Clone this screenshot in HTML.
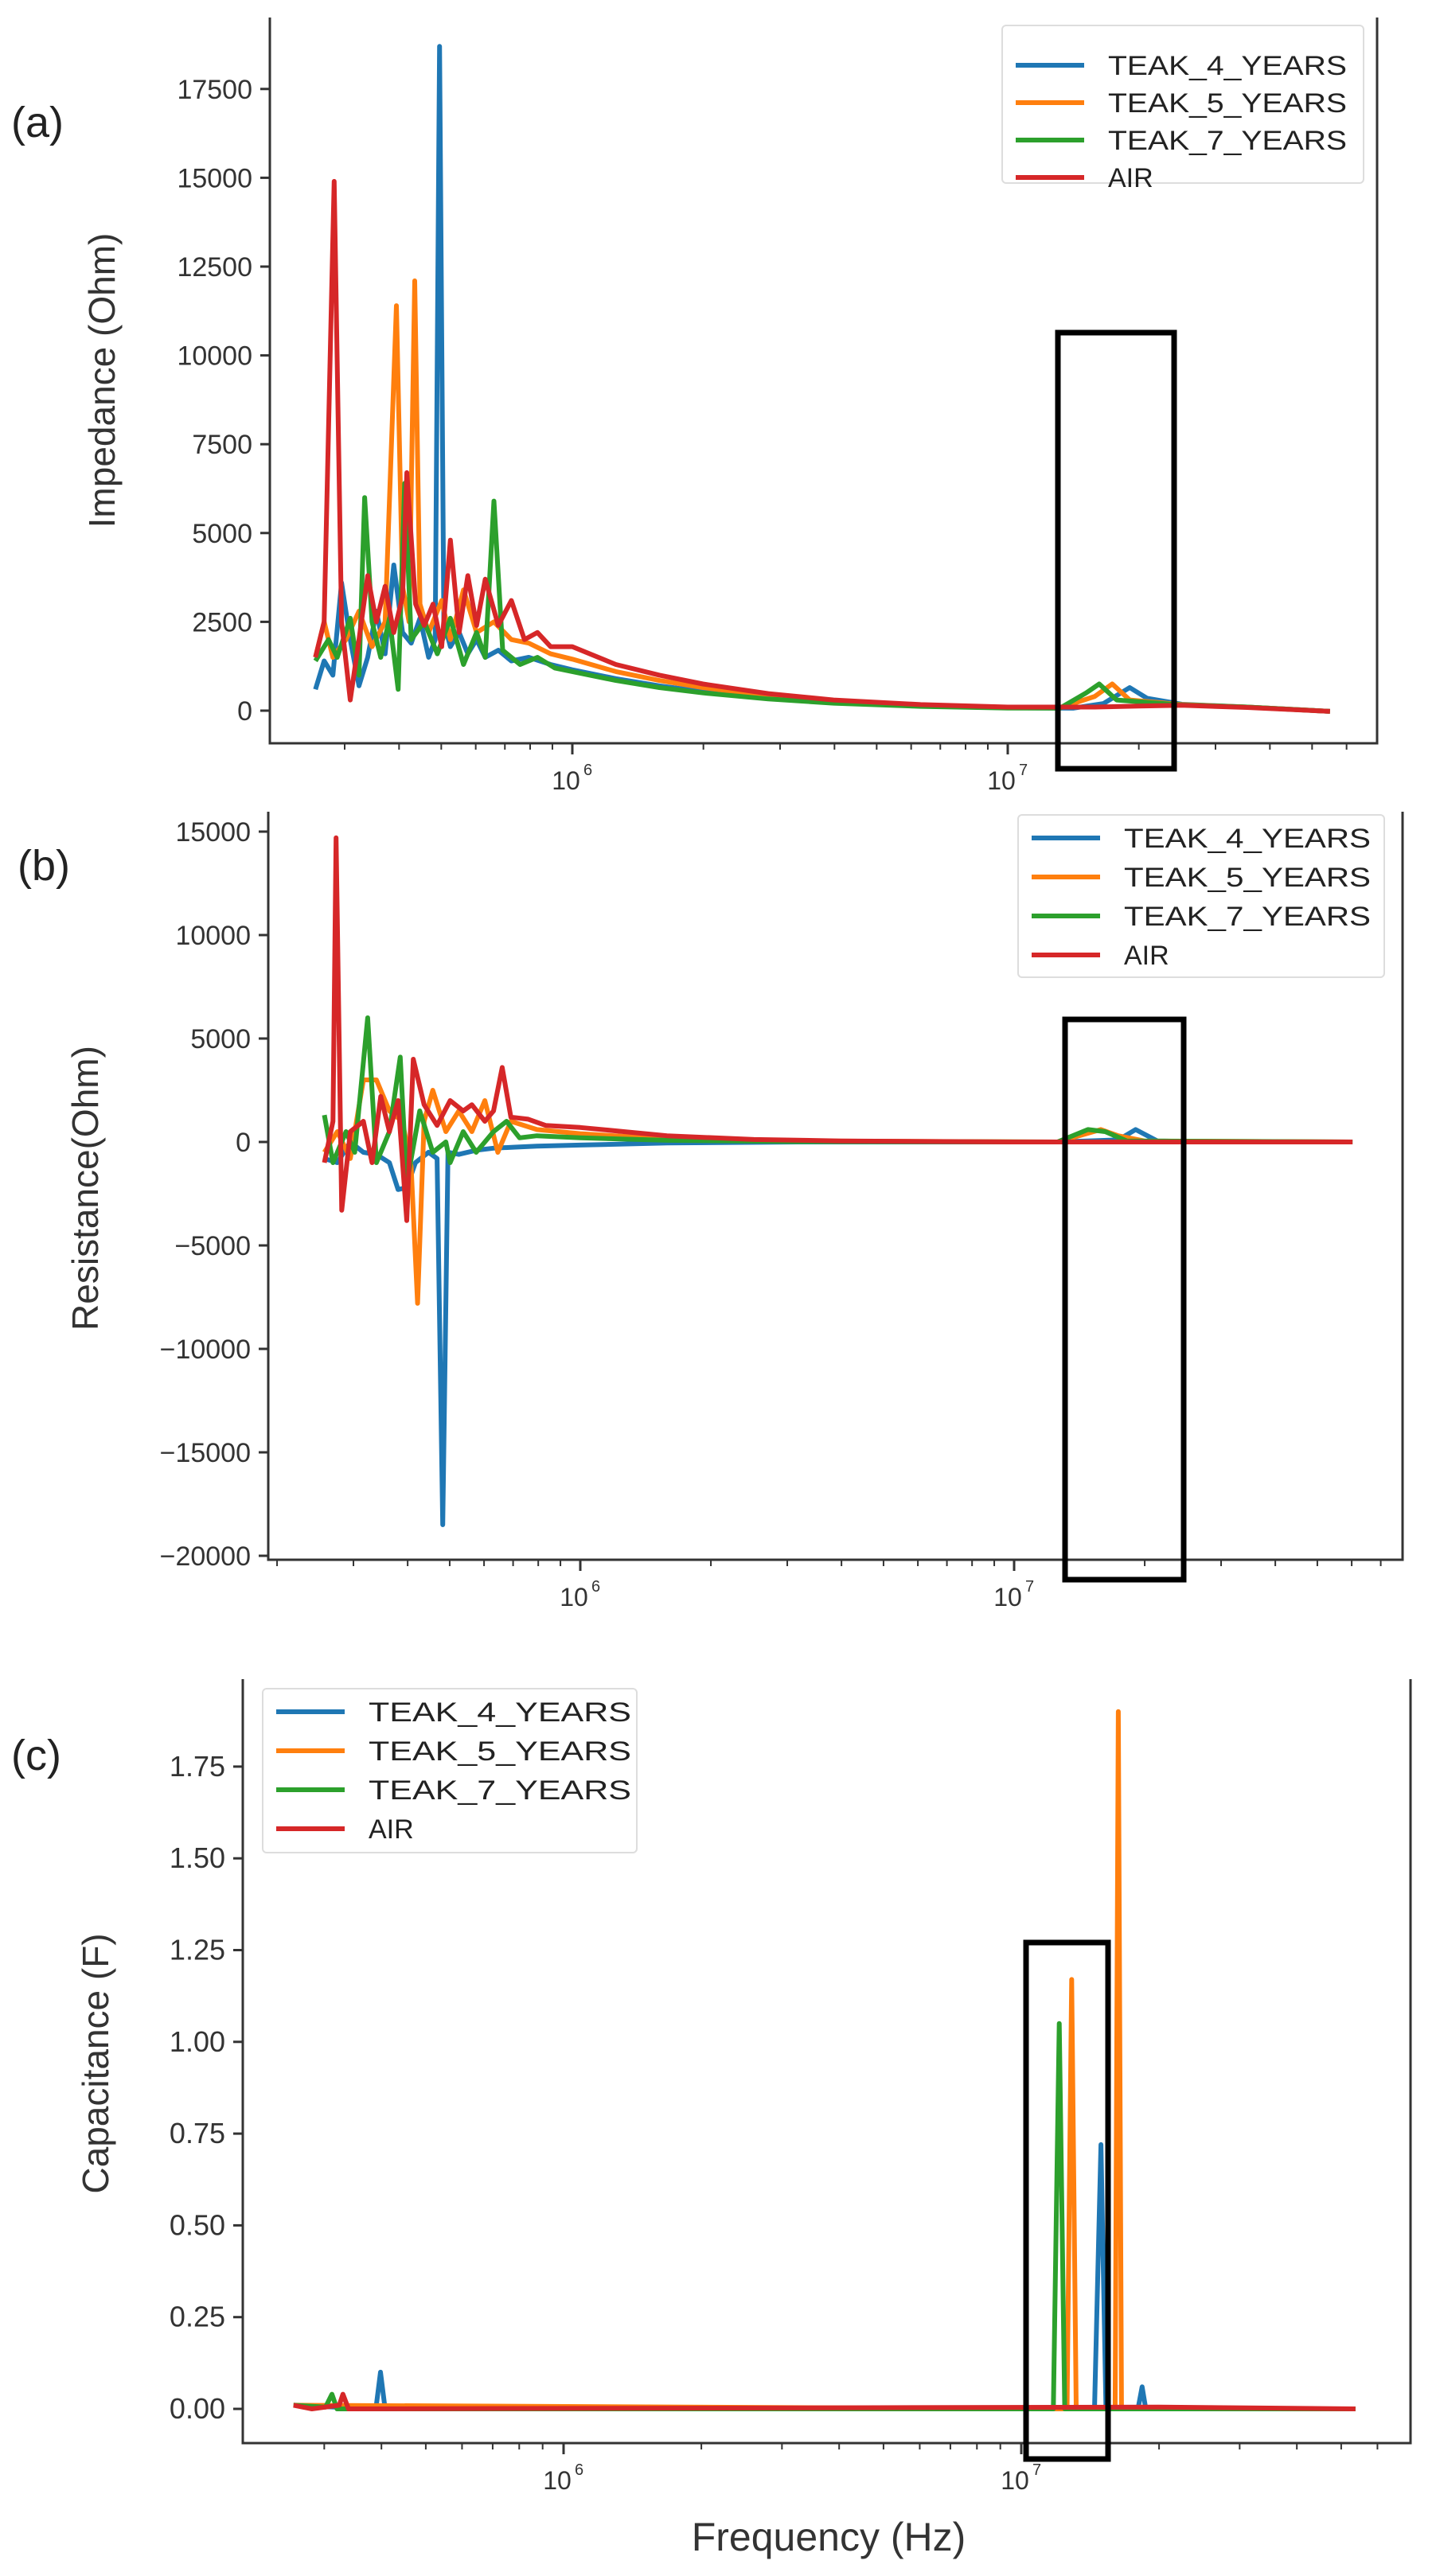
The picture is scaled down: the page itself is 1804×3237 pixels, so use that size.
<!DOCTYPE html>
<html><head><meta charset="utf-8"><style>
html,body{margin:0;padding:0;background:#fff;}
svg{display:block;}
text{font-family:"Liberation Sans",Arial,sans-serif;}
</style></head>
<body>
<svg id="fig" width="1804" height="3237" viewBox="0 0 1804 3237" xmlns="http://www.w3.org/2000/svg"></svg>
<script>
// ---------- Panel (a) Impedance data (log10 frequency, Ohm) ----------
const impBlueF = [5.41,5.43,5.45,5.47,5.49,5.51,5.53,5.55,5.57,5.59,5.61,5.63,5.65,5.67,5.685,5.695,5.705,5.72,5.74,5.76,5.78,5.80,5.83,5.86,5.9,5.95,6.0,6.1,6.2,6.3,6.45,6.6,6.8,7.0,7.15,7.22,7.28,7.32,7.4,7.55,7.74];
const impBlueV = [600,1400,1000,3600,2000,700,1500,2800,1600,4100,2200,1900,2600,1500,2000,18700,2500,1800,2200,1600,2000,1500,1700,1400,1500,1300,1150,900,700,540,350,230,130,80,70,200,650,350,180,100,-20];
const impOrangeF = [5.41,5.43,5.45,5.48,5.51,5.54,5.57,5.596,5.61,5.625,5.638,5.65,5.67,5.70,5.72,5.75,5.78,5.82,5.86,5.9,5.95,6.0,6.1,6.2,6.3,6.45,6.6,6.8,7.0,7.12,7.2,7.24,7.28,7.4,7.55,7.74];
const impOrangeV = [1500,2500,1500,2000,2800,1800,2500,11400,3500,2500,12100,3000,2200,3100,2000,3400,2200,2500,2000,1900,1600,1450,1100,850,650,420,270,150,90,80,400,750,300,170,100,-20];
const impGreenF = [5.41,5.44,5.46,5.49,5.51,5.523,5.54,5.56,5.58,5.60,5.615,5.63,5.66,5.69,5.72,5.75,5.78,5.80,5.82,5.84,5.88,5.92,5.96,6.0,6.1,6.2,6.3,6.45,6.6,6.8,7.0,7.12,7.18,7.21,7.25,7.4,7.55,7.74];
const impGreenV = [1400,2000,1500,2600,1000,6000,2500,1500,2600,600,6400,2000,2500,1600,2600,1300,2200,1500,5900,1700,1300,1500,1200,1100,850,650,500,330,210,120,75,70,500,750,300,160,100,-20];
const impRedF = [5.41,5.43,5.453,5.47,5.49,5.51,5.53,5.55,5.57,5.59,5.61,5.62,5.64,5.66,5.68,5.70,5.72,5.74,5.76,5.78,5.80,5.83,5.86,5.89,5.92,5.95,6.0,6.1,6.2,6.3,6.45,6.6,6.8,7.0,7.2,7.3,7.4,7.55,7.74];
const impRedV = [1500,2500,14900,2500,300,2000,3800,2500,3500,2200,3200,6700,3000,2400,3000,1800,4800,2200,3800,2400,3700,2400,3100,2000,2200,1800,1800,1300,1000,750,480,300,170,100,100,130,150,90,-20];
const impYTicks = [0,2500,5000,7500,10000,12500,15000,17500];

// ---------- Panel (b) Resistance data ----------
const resBlueF = [5.41,5.44,5.47,5.50,5.53,5.56,5.58,5.60,5.62,5.65,5.67,5.683,5.695,5.72,5.76,5.8,5.85,5.9,6.0,6.2,6.5,7.1,7.24,7.28,7.33,7.5,7.78];
const resBlueV = [-800,-1000,0,-500,-600,-1000,-2300,-2200,-1000,-500,-800,-18500,-500,-600,-400,-300,-250,-200,-150,-50,0,0,100,600,50,0,0];
const resOrangeF = [5.41,5.44,5.47,5.50,5.53,5.56,5.59,5.61,5.625,5.64,5.66,5.69,5.72,5.75,5.78,5.81,5.84,5.9,6.0,6.2,6.5,7.1,7.2,7.24,7.3,7.78];
const resOrangeV = [-500,500,-800,3000,3000,1500,1000,-1200,-7800,1000,2500,500,1500,500,2000,-500,1000,600,400,150,50,0,600,300,50,0];
const resGreenF = [5.41,5.43,5.46,5.48,5.51,5.53,5.56,5.585,5.60,5.63,5.66,5.69,5.70,5.73,5.76,5.80,5.83,5.86,5.9,6.0,6.2,6.5,7.1,7.17,7.21,7.26,7.78];
const resGreenV = [1300,-1000,500,-500,6000,-1000,500,4100,-2000,1500,-500,0,-1000,500,-500,500,1000,200,300,200,80,20,0,600,500,50,0];
const resRedF = [5.41,5.43,5.437,5.45,5.47,5.50,5.52,5.54,5.56,5.58,5.60,5.615,5.64,5.67,5.70,5.73,5.75,5.78,5.80,5.82,5.84,5.88,5.92,6.0,6.1,6.2,6.4,6.6,7.0,7.78];
const resRedV = [-1000,1000,14700,-3300,500,1000,-1000,2200,500,2000,-3800,4000,1800,800,2000,1500,1800,1000,1500,3600,1200,1100,800,700,500,300,120,50,0,0];
const resYTicks = [-20000,-15000,-10000,-5000,0,5000,10000,15000];

// ---------- Panel (c) Capacitance data ----------
const capBlueF = [5.41,5.59,5.60,5.61,7.16,7.174,7.185,7.255,7.264,7.272,7.73];
const capBlueV = [0.01,0,0.10,0,0,0.72,0,0,0.06,0,0];
const capOrangeF = [5.41,7.10,7.11,7.12,7.205,7.212,7.219,7.73];
const capOrangeV = [0.01,0,1.17,0,0,1.90,0,0];
const capGreenF = [5.41,5.48,5.494,5.505,7.07,7.083,7.095,7.73];
const capGreenV = [0.01,0.005,0.04,0,0,1.05,0,0];
const capRedF = [5.41,5.45,5.51,5.518,5.53,7.3,7.73];
const capRedV = [0.01,0,0.01,0.04,0,0.005,0];
const capYTicks = [0,0.25,0.5,0.75,1.0,1.25,1.5,1.75];

const seriesNames = ["TEAK_4_YEARS","TEAK_5_YEARS","TEAK_7_YEARS","AIR"];
const colors = ["#1f77b4","#ff7f0e","#2ca02c","#d62728"];

const NS="http://www.w3.org/2000/svg";
const svg=document.getElementById('fig');
function mk(tag,attrs,parent){const e=document.createElementNS(NS,tag);for(const k in attrs)e.setAttribute(k,attrs[k]);(parent||svg).appendChild(e);return e;}

function panel(cfg){
  const g=mk('g',{});
  
  
  const xs=f=>cfg.x6+(f-6)*cfg.dec;
  const ys=v=>cfg.y0+(v-cfg.v0)*cfg.yPer;
  const cid='clip'+cfg.id;
  const cp=mk('clipPath',{id:cid},g);
  mk('rect',{x:cfg.L,y:cfg.T,width:cfg.R-cfg.L,height:cfg.B-cfg.T},cp);
  const lines=mk('g',{'clip-path':'url(#'+cid+')'},g);
  cfg.series.forEach((s,i)=>{
    const pts=s[0].map((f,j)=>xs(f).toFixed(1)+','+ys(s[1][j]).toFixed(1)).join(' ');
    const pl=mk('polyline',{points:pts,fill:'none',stroke:colors[i],'stroke-width':cfg.lw||6,'stroke-linejoin':'round'},lines);
    
    
  });
  const sp=mk('path',{d:`M${cfg.L},${cfg.T} V${cfg.B} H${cfg.R} V${cfg.T}`,fill:'none',stroke:'#333','stroke-width':3},g);
  
  
  cfg.yticks.forEach(v=>{
    const y=ys(v);
    mk('line',{x1:cfg.L-12,x2:cfg.L,y1:y,y2:y,stroke:'#333','stroke-width':3},g);
    const t=mk('text',{x:cfg.L-22,y:y+12,'text-anchor':'end','font-size':cfg.tfs||34,fill:'#333'},g);
    t.textContent=cfg.fmt(v);
    
    
  });
  for(let d=5;d<=7;d++){
    for(let m=1;m<=9;m++){
      const f=d+Math.log10(m);
      const x=xs(f);
      if(x<cfg.L+5||x>cfg.R-5)continue;
      mk('line',{x1:x,x2:x,y1:cfg.B,y2:cfg.B+(m===1?14:8),stroke:'#333','stroke-width':m===1?3:2},g);
      if(m===1){
        const t=mk('text',{x:x-8,y:cfg.B+58,'text-anchor':'middle','font-size':32,fill:'#333'},g);
        t.textContent='10';
        
        
        const e=mk('text',{x:x+14,y:cfg.B+40,'font-size':20,fill:'#333'},g);
        e.textContent=String(d);
      }
    }
  }
  const bx=mk('rect',{x:cfg.box[0],y:cfg.box[1],width:cfg.box[2]-cfg.box[0],height:cfg.box[3]-cfg.box[1],fill:'none',stroke:'#000','stroke-width':7},g);
  
  
  const lg=mk('g',{},g);
  
  
  const L=cfg.leg;
  mk('rect',{x:L.x,y:L.y,width:L.w,height:L.h,rx:5,fill:'#fff','fill-opacity':0.9,stroke:'#ddd','stroke-width':2},lg);
  seriesNames.forEach((n,i)=>{
    const cy=L.y+L.first+i*L.step;
    mk('line',{x1:L.x+17,x2:L.x+103,y1:cy,y2:cy,stroke:colors[i],'stroke-width':6},lg);
    const t=mk('text',{x:L.x+133,y:cy+12,'font-size':34,fill:'#222'},lg);
    if(n!=='AIR'){t.setAttribute('textLength',L.tl);t.setAttribute('lengthAdjust','spacingAndGlyphs');}
    t.textContent=n;
    
    
  });
  const yl=mk('text',{x:cfg.yl[0],y:cfg.yl[1],'text-anchor':'middle','font-size':46,fill:'#333',transform:`rotate(-90 ${cfg.yl[0]} ${cfg.yl[1]})`},g);
  yl.textContent=cfg.ylabel;
  
  
  const pl=mk('text',{x:cfg.pl[0],y:cfg.pl[1],'font-size':54,fill:'#222','font-family':'"Liberation Serif",serif'},g);
  pl.textContent=cfg.plabel;
  
  
  return g;
}

panel({id:'a',name:'impedance-chart',L:339,R:1730,T:22,B:934,x6:719,dec:547,y0:893,v0:0,yPer:-111.6/2500,
  series:[[impBlueF,impBlueV],[impOrangeF,impOrangeV],[impGreenF,impGreenV],[impRedF,impRedV]],
  yticks:impYTicks,fmt:v=>String(v),box:[1329,418,1475,966],
  leg:{x:1259,y:32,w:454,h:198,first:50,step:47,tl:300},yl:[144,478],ylabel:'Impedance (Ohm)',pl:[14,172],plabel:'(a)'});

panel({id:'b',name:'resistance-chart',L:337,R:1762,T:1020,B:1960,x6:729,dec:545,y0:1435,v0:0,yPer:-130/5000,
  series:[[resBlueF,resBlueV],[resOrangeF,resOrangeV],[resGreenF,resGreenV],[resRedF,resRedV]],
  yticks:resYTicks,fmt:v=>v<0?'\u2212'+Math.abs(v):String(v),box:[1338,1281,1487,1985],
  leg:{x:1279,y:1024,w:460,h:204,first:29,step:49,tl:310},yl:[123,1493],ylabel:'Resistance(Ohm)',pl:[22,1106],plabel:'(b)'});

panel({id:'c',name:'capacitance-chart',L:305,R:1772,T:2110,B:3070,x6:708,dec:575,y0:3027,v0:0,yPer:-115.3/0.25,
  series:[[capBlueF,capBlueV],[capOrangeF,capOrangeV],[capGreenF,capGreenV],[capRedF,capRedV]],
  yticks:capYTicks,fmt:v=>v.toFixed(2),box:[1289,2441,1392,3090],
  leg:{x:330,y:2122,w:470,h:206,first:29,step:49,tl:330},yl:[136,2593],ylabel:'Capacitance (F)',pl:[14,2224],plabel:'(c)',tfs:36});

const xl=mk('text',{x:1041,y:3205,'text-anchor':'middle','font-size':50,fill:'#333'});
xl.textContent='Frequency (Hz)';


</script>
</body></html>
